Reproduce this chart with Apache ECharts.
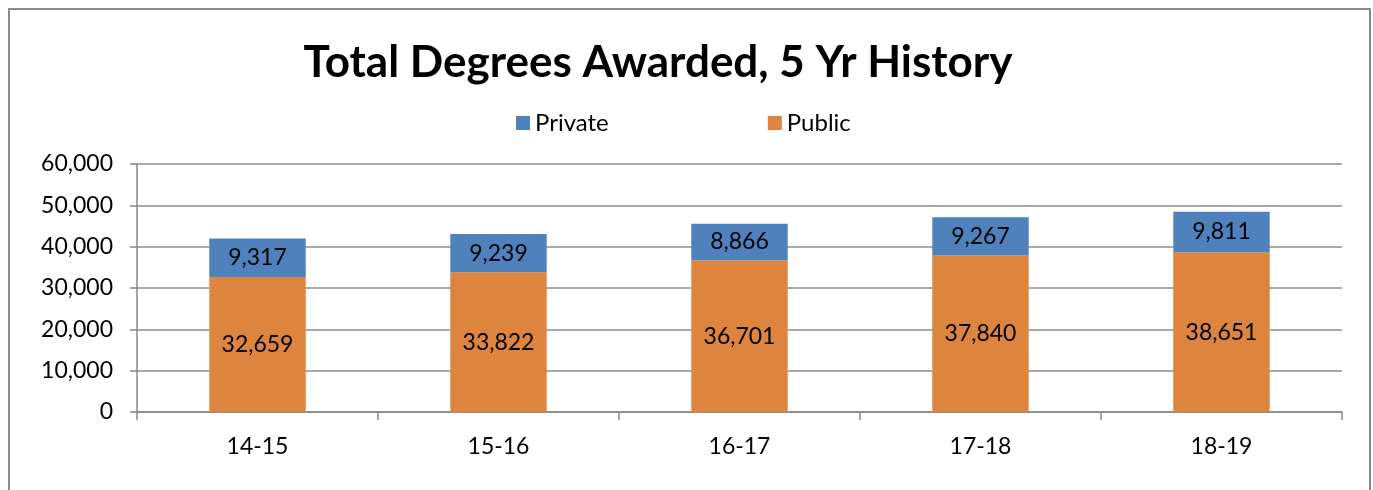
<!DOCTYPE html>
<html><head><meta charset="utf-8">
<script src="https://cdn.jsdelivr.net/npm/echarts@6/dist/echarts.min.js"></script>
<style>html,body{margin:0;padding:0;background:#fff}#c{width:1373px;height:490px}</style>
</head><body><div id="c"></div>
<script>
const categories = ['14-15','15-16','16-17','17-18','18-19'];
const privateVals = [9317, 9239, 8866, 9267, 9811];
const publicVals = [32659, 33822, 36701, 37840, 38651];
const yTicks = {min:0, max:60000, interval:10000};
const FONT = 'Lato';
const chart = echarts.init(document.getElementById('c'), null, {renderer:'canvas'});
const fmt = v => v.toLocaleString('en-US');
chart.setOption({
  animation:false,
  graphic:[{type:'rect', shape:{x:9,y:9,width:1361,height:600}, style:{fill:'none', stroke:'#8a8a8a', lineWidth:2}, silent:true}],
  title:{text:'Total Degrees Awarded, 5 Yr History', left:653, top:36, textAlign:'center',
    textStyle:{fontFamily:FONT, fontWeight:'bold', fontSize:44, color:'#000'}},
  legend:{top:106, left:511, itemWidth:14, itemHeight:14, itemGap:159, icon:'rect',
    textStyle:{fontFamily:FONT, fontSize:24, color:'#000'},
    data:['Private','Public']},
  grid:{left:137, right:31, top:164, bottom:78, containLabel:false},
  xAxis:{type:'category', data:categories,
    axisLine:{lineStyle:{color:'#868686', width:1.5}},
    axisTick:{show:true, length:8, lineStyle:{color:'#868686', width:1.5}},
    axisLabel:{fontFamily:FONT, fontSize:23, color:'#000', margin:23}},
  yAxis:{type:'value', min:yTicks.min, max:yTicks.max, interval:yTicks.interval,
    axisLine:{show:true, lineStyle:{color:'#868686', width:1.5}},
    axisTick:{show:true, length:7, lineStyle:{color:'#868686', width:1.5}},
    splitLine:{lineStyle:{color:'#8c8c8c', width:1.5}},
    axisLabel:{fontFamily:FONT, fontSize:23, color:'#000', margin:24, formatter:v=>fmt(v)}},
  series:[
    {name:'Public', type:'bar', stack:'t', data:publicVals, barWidth:'40%',
      itemStyle:{color:'#DD843F'},
      label:{show:true, position:'inside', fontFamily:FONT, fontSize:23, color:'#000', formatter:p=>fmt(p.value)}},
    {name:'Private', type:'bar', stack:'t', data:privateVals, barWidth:'40%',
      itemStyle:{color:'#4F81BD'},
      label:{show:true, position:'inside', fontFamily:FONT, fontSize:23, color:'#000', formatter:p=>fmt(p.value)}}
  ]
});
</script></body></html>
